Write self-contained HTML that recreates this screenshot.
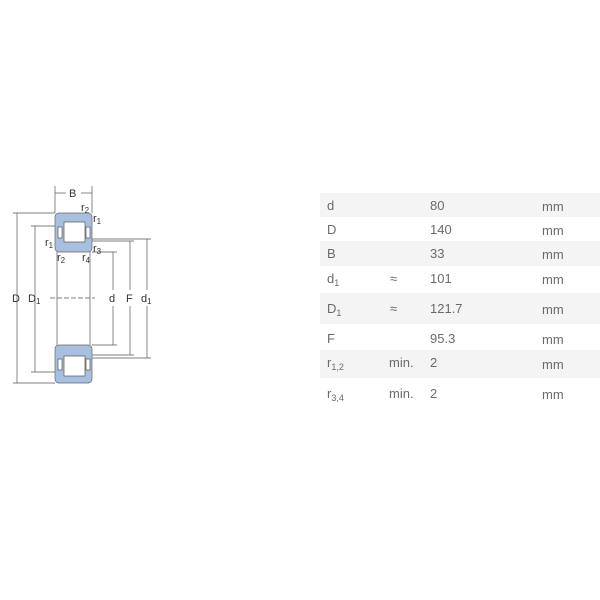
<!DOCTYPE html>
<html><head><style>
body{margin:0;width:600px;height:600px;background:#fff;font-family:"Liberation Sans",sans-serif;position:relative;overflow:hidden}
.t{position:absolute;left:320px;width:280px;color:#6a6a6a;font-size:13px}
.r{position:absolute;left:0;width:280px}
.r span{position:absolute}
.s{background:#f4f4f4}
sub{font-size:9px;vertical-align:-3px}
</style></head><body>
<svg width="170" height="400" style="position:absolute;left:0;top:0" font-family="Liberation Sans" font-size="11" fill="#333">
<g stroke="#555" stroke-width="0.7" fill="none">
<line x1="55" y1="186" x2="55" y2="213"/><line x1="92" y1="186" x2="92" y2="213"/>
<line x1="55" y1="193" x2="66" y2="193"/><line x1="81" y1="193" x2="92" y2="193"/>
<line x1="17" y1="213" x2="17" y2="383"/><line x1="13" y1="213" x2="55" y2="213"/><line x1="13" y1="383" x2="55" y2="383"/>
<line x1="35" y1="226" x2="35" y2="372"/><line x1="31" y1="226" x2="58" y2="226"/><line x1="31" y1="372" x2="58" y2="372"/>
<line x1="113" y1="252" x2="113" y2="290"/><line x1="113" y1="306" x2="113" y2="345"/><line x1="92" y1="252" x2="117" y2="252"/><line x1="92" y1="345" x2="117" y2="345"/>
<line x1="130" y1="241" x2="130" y2="290"/><line x1="130" y1="306" x2="130" y2="355"/><line x1="92" y1="241" x2="134" y2="241"/><line x1="92" y1="355" x2="134" y2="355"/>
<line x1="147" y1="239" x2="147" y2="290"/><line x1="147" y1="306" x2="147" y2="358"/><line x1="92" y1="239" x2="151" y2="239"/><line x1="92" y1="358" x2="151" y2="358"/>
<line x1="57" y1="252" x2="57" y2="345"/><line x1="90" y1="252" x2="90" y2="345"/>
<line x1="50" y1="298" x2="95" y2="298" stroke-dasharray="5,2"/>
</g>
<g fill="#a9bfe0" stroke="#666" stroke-width="0.7">
<rect x="55" y="213" width="37" height="39" rx="4"/>
<rect x="55" y="345" width="37" height="38" rx="4"/>
</g>
<g fill="#fff" stroke="#555" stroke-width="0.7">
<rect x="64" y="222" width="21" height="20"/><rect x="64" y="356" width="21" height="20"/>
<rect x="58" y="227" width="4" height="11"/><rect x="86" y="227" width="4" height="11"/>
<rect x="58" y="359" width="4" height="11"/><rect x="86" y="359" width="4" height="11"/>
</g>
<text x="69" y="197">B</text>
<text x="81" y="211">r<tspan font-size="8" dy="2">2</tspan></text>
<text x="93" y="222">r<tspan font-size="8" dy="2">1</tspan></text>
<text x="45" y="246">r<tspan font-size="8" dy="2">1</tspan></text>
<text x="57" y="261">r<tspan font-size="8" dy="2">2</tspan></text>
<text x="82" y="261">r<tspan font-size="8" dy="2">4</tspan></text>
<text x="93" y="252">r<tspan font-size="8" dy="2">3</tspan></text>
<text x="12" y="302">D</text>
<text x="28" y="302">D<tspan font-size="8" dy="2">1</tspan></text>
<text x="109" y="302">d</text>
<text x="126" y="302">F</text>
<text x="141" y="302">d<tspan font-size="8" dy="2">1</tspan></text>
</svg>
<div class="t">
<div class="r s" style="top:193px;height:24px"><span style="left:7px;top:5px">d</span><span style="left:110px;top:5px">80</span><span style="left:222px;top:6px">mm</span></div>
<div class="r" style="top:217px;height:24px"><span style="left:7px;top:5px">D</span><span style="left:110px;top:5px">140</span><span style="left:222px;top:6px">mm</span></div>
<div class="r s" style="top:241px;height:25px"><span style="left:7px;top:5px">B</span><span style="left:110px;top:5px">33</span><span style="left:222px;top:6px">mm</span></div>
<div class="r" style="top:266px;height:27px"><span style="left:7px;top:5px">d<sub>1</sub></span><span style="left:70px;top:5px">≈</span><span style="left:110px;top:5px">101</span><span style="left:222px;top:6px">mm</span></div>
<div class="r s" style="top:293px;height:31px"><span style="left:7px;top:8px">D<sub>1</sub></span><span style="left:70px;top:8px">≈</span><span style="left:110px;top:8px">121.7</span><span style="left:222px;top:9px">mm</span></div>
<div class="r" style="top:324px;height:26px"><span style="left:7px;top:7px">F</span><span style="left:110px;top:7px">95.3</span><span style="left:222px;top:8px">mm</span></div>
<div class="r s" style="top:350px;height:28px"><span style="left:7px;top:5px">r<sub>1,2</sub></span><span style="left:69px;top:5px">min.</span><span style="left:110px;top:5px">2</span><span style="left:222px;top:7px">mm</span></div>
<div class="r" style="top:378px;height:30px"><span style="left:7px;top:8px">r<sub>3,4</sub></span><span style="left:69px;top:8px">min.</span><span style="left:110px;top:8px">2</span><span style="left:222px;top:9px">mm</span></div>
</div>
</body></html>
